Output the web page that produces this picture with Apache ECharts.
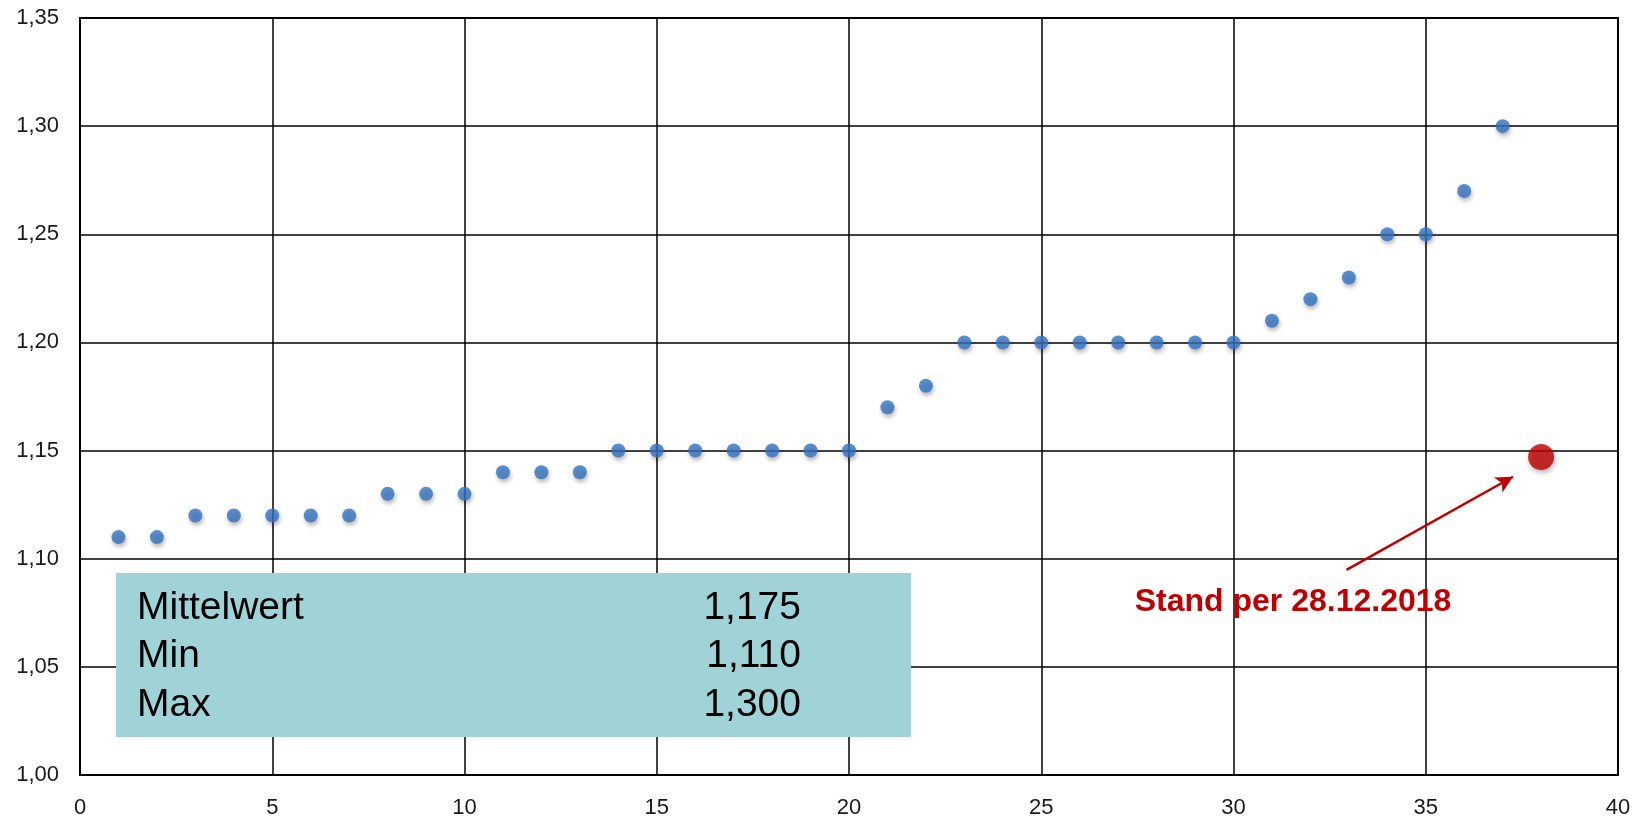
<!DOCTYPE html>
<html>
<head>
<meta charset="utf-8">
<script src="https://cdn.jsdelivr.net/npm/echarts@6/dist/echarts.min.js"></script>
<style>
html,body{margin:0;padding:0;background:#fff;}
#chart{width:1648px;height:817px;}
</style>
</head>
<body>
<div id="chart"></div>
<script>
// ---- data ----
const xValues = [1,2,3,4,5,6,7,8,9,10,11,12,13,14,15,16,17,18,19,20,21,22,23,24,25,26,27,28,29,30,31,32,33,34,35,36,37];
const yValues = [1.11,1.11,1.12,1.12,1.12,1.12,1.12,1.13,1.13,1.13,1.14,1.14,1.14,1.15,1.15,1.15,1.15,1.15,1.15,1.15,1.17,1.18,1.20,1.20,1.20,1.20,1.20,1.20,1.20,1.20,1.21,1.22,1.23,1.25,1.25,1.27,1.30];
const currentPoint = [38, 1.147];
const currentLabel = 'Stand per 28.12.2018';
const arrowFrom = [32.94, 1.0948];
const arrowTo = [37.27, 1.1379];
const statLabels = ['Mittelwert', 'Min', 'Max'];
const statValues = ['1,175', '1,110', '1,300'];
const xTicks = {min: 0, max: 40, interval: 5};
const yTicks = {min: 1.00, max: 1.35, interval: 0.05};

const chart = echarts.init(document.getElementById('chart'), null, {renderer: 'canvas'});

const FONT = '"Liberation Sans", Arial, sans-serif';
const graphics = [
  {type: 'rect', shape: {x: 116, y: 573, width: 795, height: 164}, style: {fill: '#a0d3d8'}, z: 100}
];
const rowY = [608, 656.5, 705];
statLabels.forEach((t, i) => {
  graphics.push({type: 'text', x: 137, y: rowY[i], z: 101,
    style: {text: t, font: '39px ' + FONT, fill: '#000', textAlign: 'left', textVerticalAlign: 'middle'}});
  graphics.push({type: 'text', x: 801, y: rowY[i], z: 101,
    style: {text: statValues[i], font: '39px ' + FONT, fill: '#000', textAlign: 'right', textVerticalAlign: 'middle'}});
});
graphics.push({type: 'text', x: 1293, y: 602, z: 101,
  style: {text: currentLabel, font: 'bold 32px ' + FONT, fill: '#c00000', textAlign: 'center', textVerticalAlign: 'middle'}});

chart.setOption({
  animation: false,
  backgroundColor: '#fff',
  grid: {left: 80, right: 30, top: 18, bottom: 42, show: true, borderColor: '#000', borderWidth: 2, backgroundColor: 'transparent', containLabel: false, outerBoundsMode: 'none'},
  xAxis: {
    type: 'value', min: xTicks.min, max: xTicks.max, interval: xTicks.interval,
    axisLine: {show: true, lineStyle: {color: '#000', width: 2}},
    axisTick: {show: false},
    splitLine: {show: true, lineStyle: {color: '#000', width: 1.5}},
    axisLabel: {color: '#1a1a1a', fontSize: 22, fontFamily: FONT, margin: 22,
      formatter: v => String(Math.round(v))}
  },
  yAxis: {
    type: 'value', min: yTicks.min, max: yTicks.max, interval: yTicks.interval,
    axisLine: {show: true, lineStyle: {color: '#000', width: 2}},
    axisTick: {show: false},
    splitLine: {show: true, lineStyle: {color: '#000', width: 1.5}},
    axisLabel: {color: '#1a1a1a', fontSize: 22, fontFamily: FONT, margin: 21,
      formatter: v => v.toFixed(2).replace('.', ',')}
  },
  series: [
    {
      type: 'scatter',
      data: xValues.map((x, i) => [x, yValues[i]]),
      symbolSize: 14,
      itemStyle: {color: '#3673c0', shadowBlur: 4, shadowColor: 'rgba(0,0,0,0.35)', shadowOffsetY: 3, shadowOffsetX: 1},
      z: 3
    },
    {
      type: 'scatter',
      data: [currentPoint],
      symbolSize: 26,
      itemStyle: {color: '#c00000', shadowBlur: 5, shadowColor: 'rgba(0,0,0,0.35)', shadowOffsetY: 3, shadowOffsetX: 1},
      z: 4,
      markLine: {
        silent: true,
        symbol: ['none', 'arrow'],
        symbolSize: [13, 17],
        label: {show: false},
        lineStyle: {color: '#c00000', width: 2.5, type: 'solid'},
        data: [[{coord: arrowFrom}, {coord: arrowTo}]]
      }
    }
  ],
  graphic: graphics
});
</script>
</body>
</html>
